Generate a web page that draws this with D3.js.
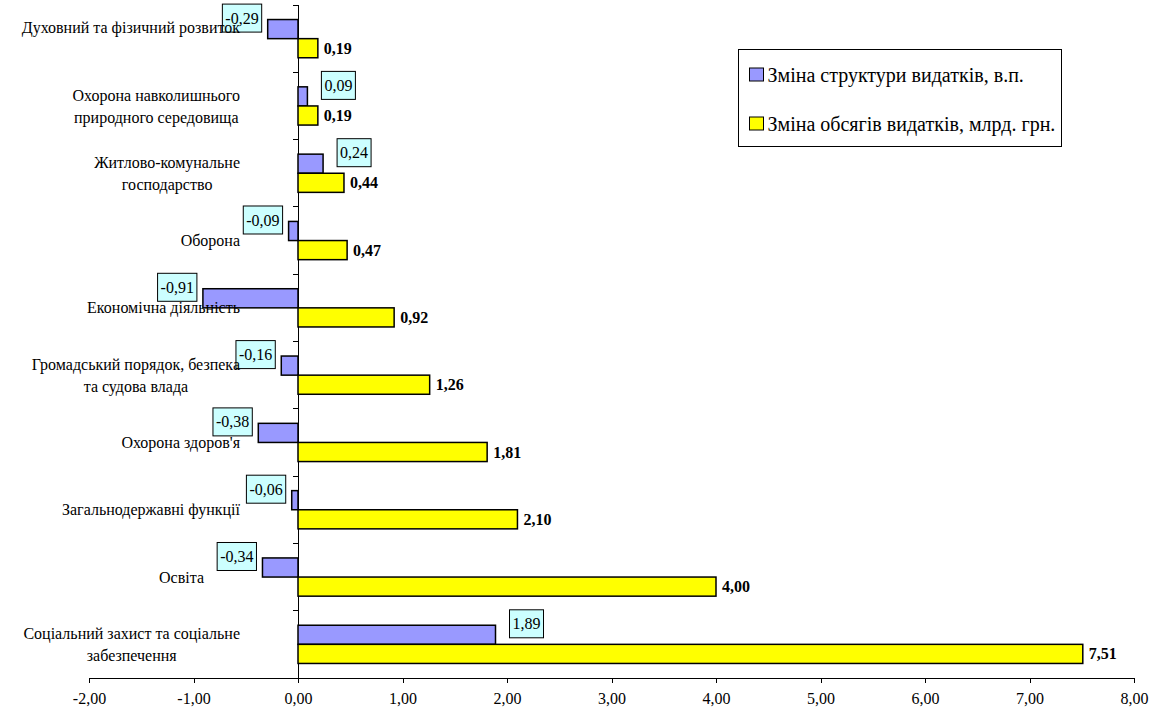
<!DOCTYPE html>
<html lang="uk">
<head>
<meta charset="utf-8">
<title>Зміна видатків</title>
<style>
  body { margin: 0; background: #fff; }
  svg text { font-family: "Liberation Serif", "Times New Roman", serif; font-size: 16px; fill: #000; }
  .cat text { white-space: pre; }
  .axis path, .axis line { stroke: #000; stroke-width: 1px; shape-rendering: crispEdges; }
  .bar { stroke: #000; stroke-width: 1.5px; }
  .val-yellow { font-weight: bold; }
  .legend text { font-size: 20px; }
</style>
</head>
<body>
<svg id="chart" width="1157" height="713"></svg>
<script src="https://cdn.jsdelivr.net/npm/d3@7"></script>
<script>

// categories, top to bottom ("\n" = line break as in the source labels)
var categories = [
  "Духовний та фізичний розвиток\n",
  "Охорона навколишнього\nприродного середовища",
  "Житлово-комунальне\nгосподарство",
  "Оборона",
  "Економічна діяльність",
  "Громадський порядок, безпека\nта судова влада",
  "Охорона здоров'я",
  "Загальнодержавні функції",
  "Освіта         ",
  "Соціальний захист та соціальне\nзабезпечення"
];

// change of expenditure structure, percentage points
var structureChange = [-0.29, 0.09, 0.24, -0.09, -0.91, -0.16, -0.38, -0.06, -0.34, 1.89];
// change of expenditure volume, bn UAH
var volumeChange = [0.19, 0.19, 0.44, 0.47, 0.92, 1.26, 1.81, 2.10, 4.00, 7.51];

var seriesNames = ["Зміна структури видатків, в.п.", "Зміна обсягів видатків, млрд. грн."];
var seriesColors = ["#9999ff", "#ffff00"];
var xTicks = [-2, -1, 0, 1, 2, 3, 4, 5, 6, 7, 8];

var svg = d3.select("#chart");
var fmt = function(v) { return d3.format(".2f")(v).replace(".", ",").replace("\u2212", "-"); };

var x = d3.scaleLinear().domain([-2, 8]).range([89, 1134]);
var y0 = d3.scaleBand().domain(d3.range(categories.length)).range([5, 678]);
var y1 = d3.scaleBand().domain([0, 1])
    .range([y0.bandwidth() * 0.216, y0.bandwidth() * 0.784]);

var rows = categories.map(function(c, i) {
  return { i: i, name: c, values: [structureChange[i], volumeChange[i]] };
});

// x axis
svg.append("g")
    .attr("class", "axis axis--x")
    .attr("transform", "translate(0," + y0.range()[1] + ")")
    .call(d3.axisBottom(x).tickValues(xTicks).tickSize(5).tickSizeOuter(0).tickPadding(10).tickFormat(fmt))
  .selectAll("text")
    .style("font-family", '"Liberation Serif", serif')
    .style("font-size", "16px");

// y axis at zero with ticks on band borders
var yAxis = svg.append("g")
    .attr("class", "axis axis--y")
    .attr("transform", "translate(" + x(0) + ",0)");
yAxis.append("line")
    .attr("y1", y0.range()[0]).attr("y2", y0.range()[1]);
yAxis.selectAll(".tk")
    .data(d3.range(categories.length + 1))
  .enter().append("line")
    .attr("class", "tk")
    .attr("x1", -5).attr("x2", 0)
    .attr("y1", function(d) { return y0.range()[0] + d * y0.step(); })
    .attr("y2", function(d) { return y0.range()[0] + d * y0.step(); });

// bars
var group = svg.selectAll(".grp")
    .data(rows)
  .enter().append("g")
    .attr("class", "grp")
    .attr("transform", function(d) { return "translate(0," + y0(d.i) + ")"; });

group.selectAll("rect")
    .data(function(d) { return d.values.map(function(v, k) { return { k: k, v: v }; }); })
  .enter().append("rect")
    .attr("class", "bar")
    .attr("x", function(d) { return x(Math.min(0, d.v)); })
    .attr("width", function(d) { return Math.abs(x(d.v) - x(0)); })
    .attr("y", function(d) { return y1(d.k); })
    .attr("height", y1.bandwidth())
    .attr("fill", function(d) { return seriesColors[d.k]; });

// yellow value labels
group.append("text")
    .attr("class", "val-yellow")
    .attr("x", function(d) { return x(d.values[1]) + 6; })
    .attr("y", function(d) { return y1(1) + y1.bandwidth() / 2; })
    .attr("dy", "0.35em")
    .text(function(d) { return fmt(d.values[1]); });

// blue value labels in boxes
group.each(function(d) {
  var g = d3.select(this);
  var v = d.values[0];
  var cy = y1(0) + y1.bandwidth() / 2 - 11;
  var lg = g.append("g");
  var box = lg.append("rect")
      .attr("fill", "#ccffff")
      .attr("stroke", "#000")
      .attr("stroke-width", 1);
  var t = lg.append("text")
      .attr("y", cy)
      .attr("dy", "0.35em")
      .text(fmt(v));
  var w = t.node().getComputedTextLength() + 6;
  var bx = v < 0 ? x(v) - 6 - w : x(v) + 14;
  t.attr("x", bx + 3);
  box.attr("x", bx).attr("y", cy - 14).attr("width", w).attr("height", 28);
});

// category labels drawn last, over the label boxes
var labelRight = 240, lineH = 22;
group.append("g").attr("class", "cat").each(function(d) {
  var lines = d.name.split("\n");
  var g = d3.select(this);
  var texts = lines.map(function(l, j) {
    return g.append("text")
      .attr("text-anchor", "middle")
      .attr("y", y0.bandwidth() / 2 + (j - (lines.length - 1) / 2) * lineH)
      .attr("dy", "0.35em")
      .text(l);
  });
  var w = d3.max(texts, function(t) { return t.node().getComputedTextLength(); });
  texts.forEach(function(t) { t.attr("x", labelRight - w / 2); });
});

// legend
var legend = svg.append("g").attr("class", "legend").attr("transform", "translate(738.5,49.5)");
legend.append("rect")
    .attr("width", 323).attr("height", 97)
    .attr("fill", "#fff").attr("stroke", "#000").attr("stroke-width", 1);
var item = legend.selectAll(".item")
    .data(seriesNames)
  .enter().append("g")
    .attr("class", "item")
    .attr("transform", function(d, i) { return "translate(11," + (25 + i * 49) + ")"; });
item.append("rect")
    .attr("x", 0).attr("y", -6.5).attr("width", 14).attr("height", 13)
    .attr("fill", function(d, i) { return seriesColors[i]; })
    .attr("stroke", "#000").attr("stroke-width", 1);
item.append("text")
    .attr("x", 18).attr("dy", "0.35em")
    .text(function(d) { return d; });

</script>
</body>
</html>
